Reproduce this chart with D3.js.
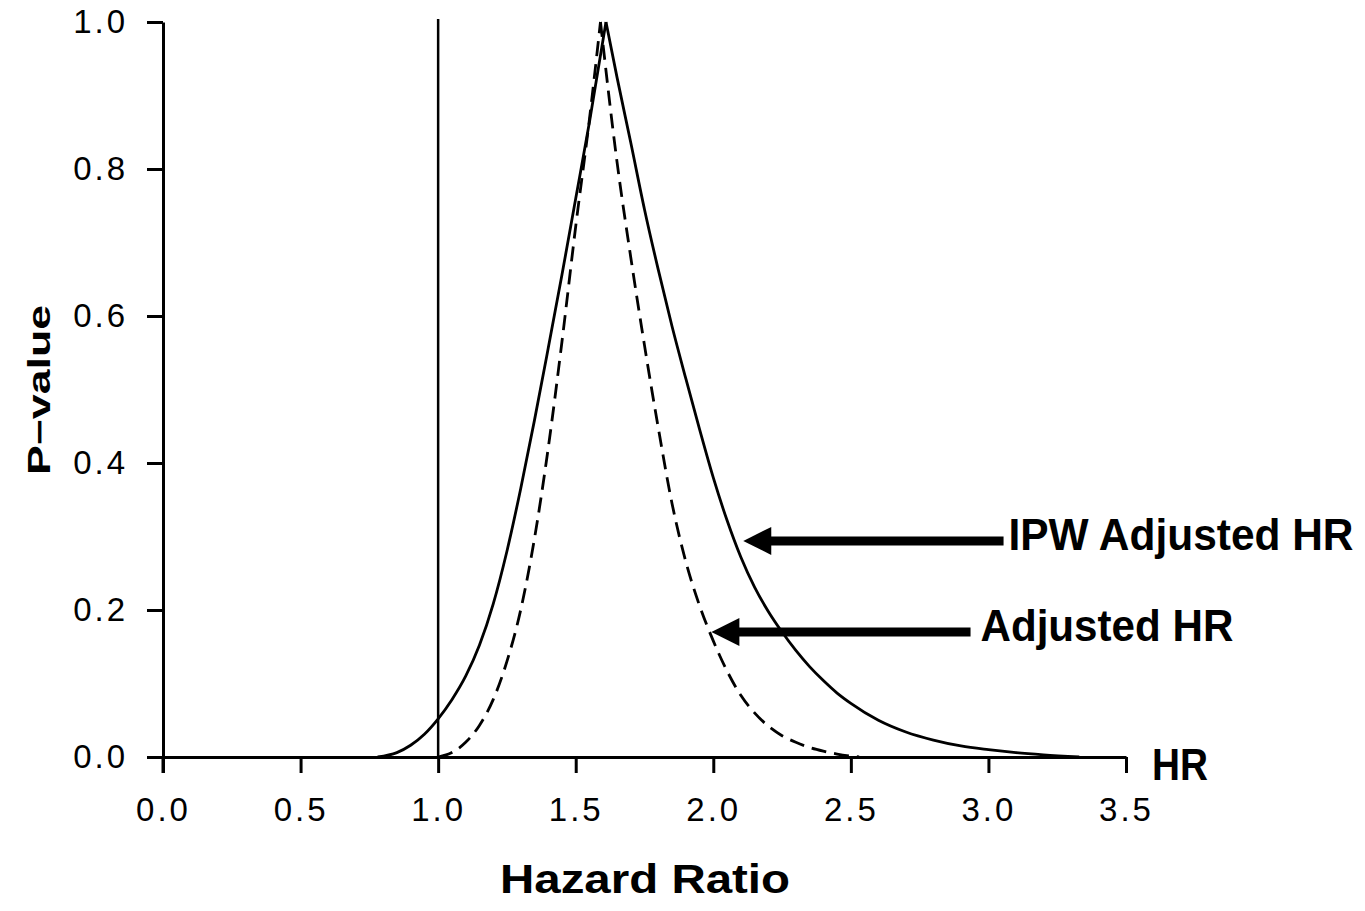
<!DOCTYPE html>
<html>
<head>
<meta charset="utf-8">
<script src="https://cdn.jsdelivr.net/npm/d3@7"></script>
<style>
  body { margin: 0; background: #fff; }
  svg { display: block; }
  text { font-family: "Liberation Sans", Arial, Helvetica, sans-serif; fill: #000; }
</style>
</head>
<body>
<div class="chart"></div>
<script>

// p-value function, IPW adjusted HR (solid) - left and right of the peak
var ipwLeftHR  = [0.78, 0.85, 0.90, 0.95, 1.00, 1.05, 1.10, 1.15, 1.20, 1.25, 1.30, 1.35, 1.40, 1.45, 1.50, 1.55, 1.61];
var ipwLeftP   = [0.000, 0.006, 0.016, 0.031, 0.052, 0.078, 0.110, 0.152, 0.208, 0.280, 0.365, 0.458, 0.556, 0.656, 0.760, 0.864, 1.000];
var ipwRightHR = [1.61, 1.65, 1.70, 1.75, 1.80, 1.85, 1.90, 1.95, 2.00, 2.05, 2.10, 2.15, 2.20, 2.25, 2.30, 2.35, 2.40, 2.45, 2.50, 2.60, 2.70, 2.80, 2.90, 3.00, 3.10, 3.20, 3.33];
var ipwRightP  = [1.000, 0.925, 0.836, 0.745, 0.663, 0.586, 0.515, 0.446, 0.380, 0.322, 0.272, 0.231, 0.198, 0.170, 0.145, 0.123, 0.104, 0.087, 0.073, 0.050, 0.034, 0.023, 0.015, 0.010, 0.006, 0.003, 0.000];

// p-value function, adjusted HR (dashed)
var adjLeftHR  = [1.00, 1.05, 1.10, 1.15, 1.20, 1.25, 1.30, 1.35, 1.40, 1.45, 1.50, 1.55, 1.59];
var adjLeftP   = [0.000, 0.006, 0.020, 0.043, 0.078, 0.130, 0.200, 0.297, 0.420, 0.565, 0.722, 0.868, 1.000];
var adjRightHR = [1.59, 1.65, 1.70, 1.75, 1.80, 1.85, 1.90, 1.95, 2.00, 2.05, 2.10, 2.15, 2.20, 2.25, 2.30, 2.35, 2.40, 2.45, 2.53];
var adjRightP  = [1.000, 0.810, 0.680, 0.560, 0.448, 0.345, 0.266, 0.206, 0.158, 0.117, 0.084, 0.060, 0.042, 0.029, 0.020, 0.013, 0.008, 0.004, 0.000];

// axis ticks
var xTicks = [0.0, 0.5, 1.0, 1.5, 2.0, 2.5, 3.0, 3.5];
var yTicks = [0.0, 0.2, 0.4, 0.6, 0.8, 1.0];

// reference line (HR = 1)
var refHR = 1.0;

// arrow annotations: tip (HR, p), tail HR, label
var arrowLabels = ["IPW Adjusted HR", "Adjusted HR"];
var arrowTipHR  = [2.109, 1.993];
var arrowP      = [0.294, 0.170];
var arrowTailHR = [3.055, 2.935];
var labelHR     = [3.073, 2.971];
var labelWidth  = [345, 253];

var width = 1365, height = 911;

var svg = d3.select(".chart")
	.append("svg")
	.attr("width", width)
	.attr("height", height);

var x = d3.scaleLinear().domain([0, 3.5]).range([163, 1126]);
var y = d3.scaleLinear().domain([0, 1]).range([757, 22]);

// y axis
var gy = svg.append("g")
	.attr("transform", "translate(" + x(0) + ",0)")
	.call(d3.axisLeft(y).tickValues(yTicks).tickFormat(d3.format(".1f")).tickSize(16).tickSizeOuter(0).tickPadding(19));

// x axis
var gx = svg.append("g")
	.attr("transform", "translate(0," + y(0) + ")")
	.call(d3.axisBottom(x).tickValues(xTicks).tickFormat(d3.format(".1f")).tickSize(16).tickSizeOuter(0).tickPadding(25));

[gx, gy].forEach(function(g) {
	g.attr("font-size", null).attr("font-family", null);
	g.select(".domain").attr("stroke-width", 3).attr("stroke", "#000");
	g.selectAll(".tick line").attr("stroke-width", 3).attr("stroke", "#000");
	g.selectAll(".tick text")
		.style("font-size", "33px")
		.style("letter-spacing", "3px")
		.attr("fill", "#000");
});

// the left axis line runs down to the x tick
svg.append("line")
	.attr("x1", x(0)).attr("x2", x(0))
	.attr("y1", y(0)).attr("y2", y(0) + 16)
	.attr("stroke", "#000").attr("stroke-width", 3);

// vertical reference line at HR = 1
svg.append("line")
	.attr("x1", x(refHR)).attr("x2", x(refHR))
	.attr("y1", y(1) - 3).attr("y2", y(0))
	.attr("stroke", "#000")
	.attr("stroke-width", 2.5);

var line = d3.line()
	.x(d => x(d[0]))
	.y(d => y(d[1]))
	.curve(d3.curveMonotoneX);

function pairs(hr, p) {
	return hr.map((h, i) => [h, p[i]]);
}

// solid IPW curve
[pairs(ipwLeftHR, ipwLeftP), pairs(ipwRightHR, ipwRightP)].forEach(function(seg) {
	svg.append("path")
		.datum(seg)
		.attr("d", line)
		.attr("fill", "none")
		.attr("stroke", "#000")
		.attr("stroke-width", 2.8)
		.attr("stroke-linejoin", "round");
});

// dashed adjusted curve
[pairs(adjLeftHR, adjLeftP), pairs(adjRightHR, adjRightP)].forEach(function(seg) {
	svg.append("path")
		.datum(seg)
		.attr("d", line)
		.attr("fill", "none")
		.attr("stroke", "#000")
		.attr("stroke-width", 2.8)
		.attr("stroke-dasharray", "15,8");
});

// arrows and labels
arrowLabels.forEach(function(label, i) {
	var tipX = x(arrowTipHR[i]),
		ay = y(arrowP[i]),
		tailX = x(arrowTailHR[i]),
		headLen = 28, headHalf = 14;

	svg.append("line")
		.attr("x1", tipX + headLen - 2).attr("x2", tailX)
		.attr("y1", ay).attr("y2", ay)
		.attr("stroke", "#000")
		.attr("stroke-width", 9);

	svg.append("path")
		.attr("d", "M" + tipX + "," + ay + "L" + (tipX + headLen) + "," + (ay - headHalf) + "L" + (tipX + headLen) + "," + (ay + headHalf) + "Z")
		.attr("fill", "#000");

	svg.append("text")
		.attr("x", x(labelHR[i]))
		.attr("y", ay + 9)
		.attr("textLength", labelWidth[i])
		.attr("lengthAdjust", "spacingAndGlyphs")
		.style("font-size", "44px")
		.style("font-weight", "bold")
		.text(label);
});

// "HR" at the end of the x axis
svg.append("text")
	.attr("x", 1152)
	.attr("y", 780)
	.attr("textLength", 56)
	.attr("lengthAdjust", "spacingAndGlyphs")
	.style("font-size", "44px")
	.style("font-weight", "bold")
	.text("HR");

// axis titles
svg.append("text")
	.attr("x", 645)
	.attr("y", 893)
	.attr("text-anchor", "middle")
	.attr("textLength", 290)
	.attr("lengthAdjust", "spacingAndGlyphs")
	.style("font-size", "40px")
	.style("font-weight", "bold")
	.text("Hazard Ratio");

svg.append("text")
	.attr("transform", "translate(50," + 390 + ") rotate(-90)")
	.attr("text-anchor", "middle")
	.attr("textLength", 170)
	.attr("lengthAdjust", "spacingAndGlyphs")
	.style("font-size", "31px")
	.style("font-weight", "bold")
	.text("P\u2212value");

</script>
</body>
</html>
